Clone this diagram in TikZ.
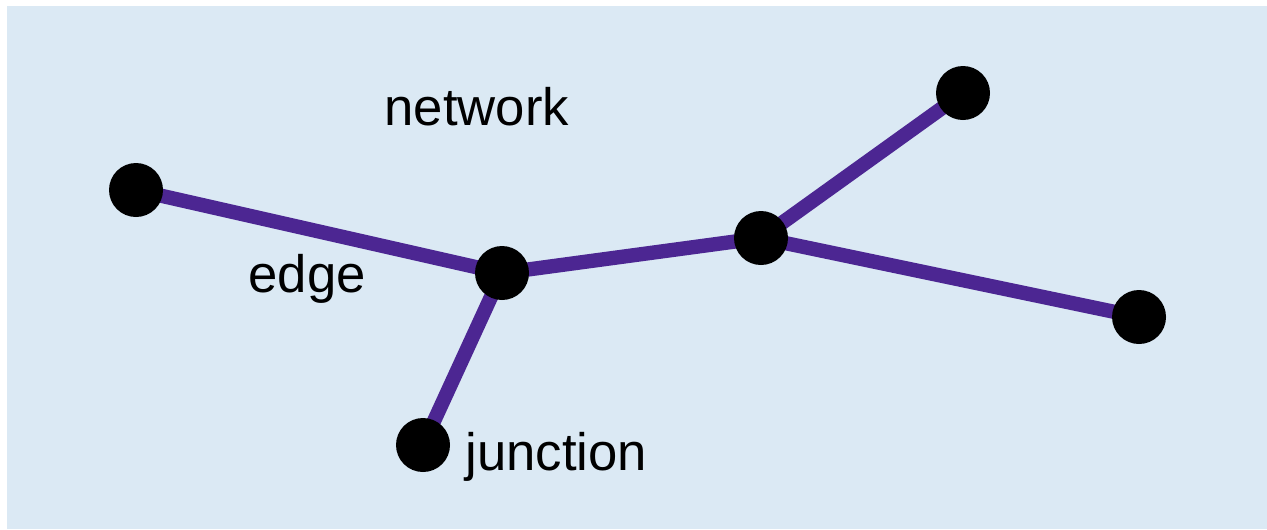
\documentclass[tikz,border=0pt]{standalone}
\usepackage{fontspec}
\setmainfont{Liberation Sans}
\usetikzlibrary{backgrounds}
\definecolor{netbg}{RGB}{219,233,244}
\definecolor{netpurple}{RGB}{76,38,146}
\tikzset{
  junction/.style={circle, fill=black, minimum size=16.2pt, inner sep=0pt},
  netedge/.style={netpurple, line width=4.3pt},
  label/.style={inner sep=0pt, anchor=base west, font=\fontsize{15.8}{18}\selectfont}
}

\begin{document}
\begin{tikzpicture}[x=0.3pt, y=-0.3pt]

  \useasboundingbox (0,0) rectangle (1267,529);

  % junctions
  \node [junction] (a) at (136,190) {};
  \node [junction] (b) at (502,273) {};
  \node [junction] (c) at (761,238) {};
  \node [junction] (d) at (963,93) {};
  \node [junction] (e) at (1139,317) {};
  \node [junction] (f) at (423,445) {};

  % background and edges go behind the junctions
  \begin{pgfonlayer}{background}
    \fill [netbg] (7,6) rectangle (1267,529);
    \foreach \u/\v in {a/b, b/c, c/d, c/e, b/f}
      \draw [netedge] (\u.center) -- (\v.center);
  \end{pgfonlayer}

  % labels
  \node [label] (network) at (384,125) {network};
  \node [label] (edgelabel) at (248,292) {edge};
  \node [label] (junctionlabel) at (465,470) {junction};

\end{tikzpicture}
\end{document}
